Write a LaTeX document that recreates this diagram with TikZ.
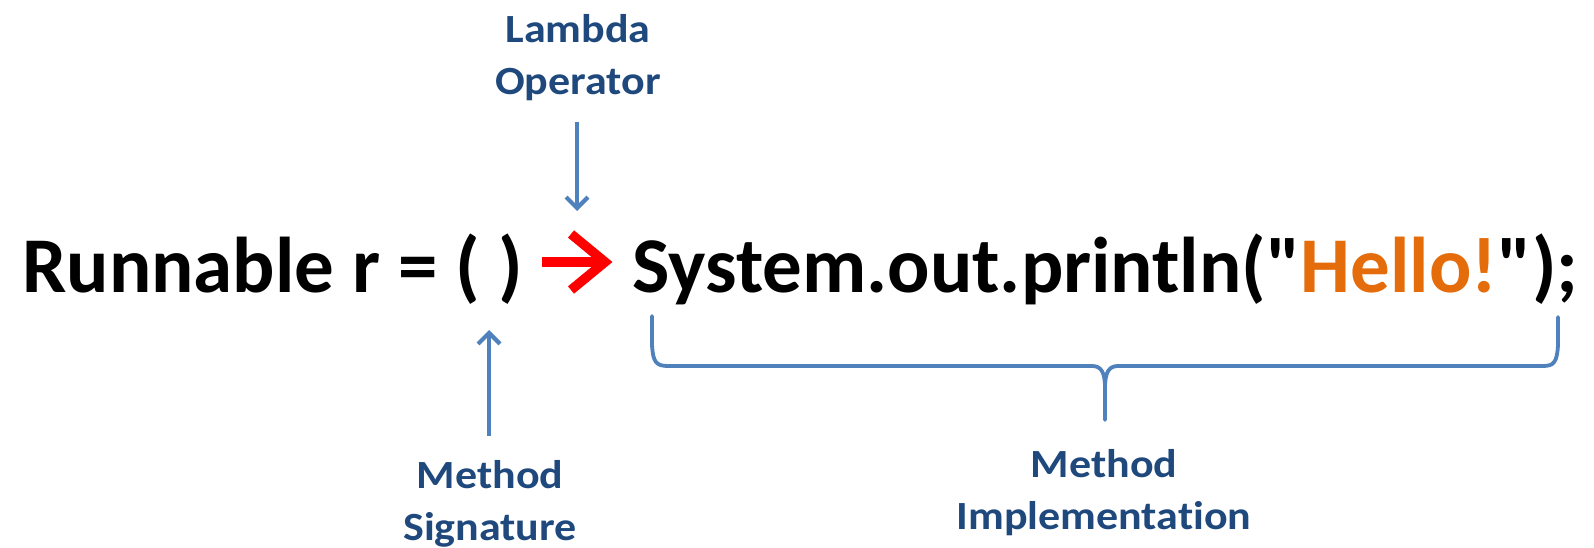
\documentclass[tikz,border=0pt]{standalone}
\usepackage{fontspec}
\setmainfont{Carlito}
\newfontfamily\codefont{Carlito}[Ligatures=TeXOff]
\newfontfamily\lblfont{Carlito}[FakeStretch=1.1, Ligatures={TeXOff,CommonOff}]
\usetikzlibrary{arrows.meta}
\definecolor{lbl}{HTML}{1F497D}
\definecolor{acc}{HTML}{4F81BD}
\definecolor{hello}{HTML}{E46C0A}
\definecolor{lam}{HTML}{FF0000}
\tikzset{
  code/.style={inner sep=0pt, font=\codefont\bfseries\fontsize{79}{82}\selectfont, text=black},
  label/.style={inner sep=0pt, align=center, font=\lblfont\bfseries\fontsize{40}{52}\selectfont, text=lbl},
  pointer/.style={acc, line width=3.6pt, -{Straight Barb[length=11pt,width=22pt,line width=4.2pt]}},
  bracepath/.style={acc, line width=3.8pt, line join=round, line cap=round},
}
\begin{document}
\begin{tikzpicture}[x=1pt,y=-1pt]
\useasboundingbox (0,0) rectangle (1594,548);
% main code line
\node[code, anchor=base west] (lhs) at (22,292) {Runnable r = ( )};
\node[code, anchor=base west] (rhs) at (632,292) {System.out.println("\textcolor{hello}{Hello!}");};
% red lambda arrow
\coordinate (ra1) at (542,262);
\coordinate (ra2) at (605,262);
\draw[lam, line width=9.5pt] (ra1) -- ([xshift=-6pt]ra2);
\draw[lam, line width=9.5pt, line join=miter] (571,234) -- (ra2) -- (571,290);
% labels
\node[label] (lamlbl) at (578,58) {Lambda\\Operator};
\node[label] (siglbl) at (490,504) {Method\\Signature};
\node[label] (implbl) at (1104,493) {Method\\Implementation};
% pointers
\coordinate (d1) at (577,122);
\coordinate (d2) at (577,211);
\draw[pointer] (d1) -- (d2);
\coordinate (u1) at (489,436);
\coordinate (u2) at (489,330);
\draw[pointer] (u1) -- (u2);
% brace
\coordinate (bl) at (652,316);
\coordinate (br) at (1558,317);
\coordinate (bt) at (1105,420);
\draw[bracepath] (bl) -- (652,345) .. controls (653,362) and (656,366) .. (668,366)
  -- (1092,366) .. controls (1101,366) and (1105,372) .. (1105,388) -- (bt);
\draw[bracepath] (br) -- (1558,345) .. controls (1557,362) and (1554,366) .. (1543,366)
  -- (1118,366) .. controls (1109,366) and (1105,372) .. (1105,388);
\end{tikzpicture}
\end{document}
